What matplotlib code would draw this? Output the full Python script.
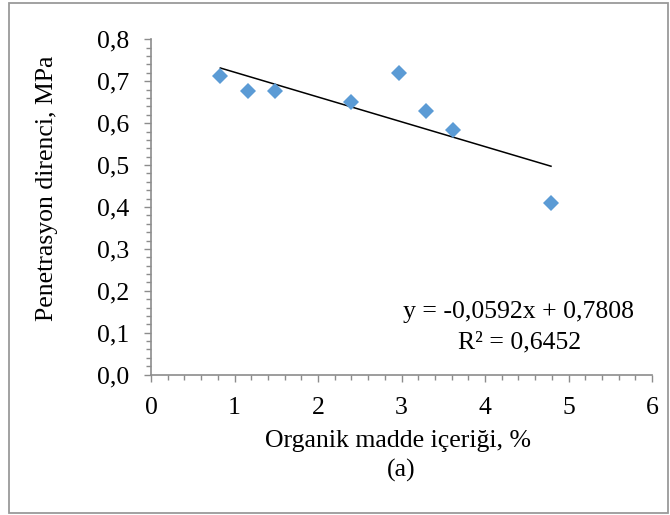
import numpy as np
import matplotlib
matplotlib.use('Agg')
import matplotlib.pyplot as plt
from matplotlib.ticker import MultipleLocator, FuncFormatter
from matplotlib.patches import Rectangle

plt.rcParams['font.family'] = ['Liberation Serif', 'DejaVu Serif']

# data
organic = [0.83, 1.16, 1.49, 2.40, 2.97, 3.29, 3.62, 4.79]
penetration = [0.713, 0.676, 0.676, 0.650, 0.719, 0.629, 0.584, 0.410]
slope = -0.0592
intercept = 0.7808
r2 = 0.6452

fs = 18.5

fig = plt.figure(figsize=(6.7, 5.15), dpi=100)
ax = fig.add_axes([0.2254, 0.2726, 0.7478, 0.651])

ax.plot(organic, penetration, linestyle='none', marker='D', markersize=8.3,
        color='#5B9BD5', markeredgewidth=0, zorder=3)

# linear trend line over the data range
xt = np.array([min(organic), max(organic)])
ax.plot(xt, slope * xt + intercept, color='black', linewidth=1.1, zorder=2)

ax.set_xlim(0, 6)
ax.set_ylim(0, 0.8)
ax.xaxis.set_major_locator(MultipleLocator(1))
ax.xaxis.set_minor_locator(MultipleLocator(0.2))
ax.yaxis.set_major_locator(MultipleLocator(0.1))
ax.yaxis.set_minor_locator(MultipleLocator(0.02))
ax.yaxis.set_major_formatter(FuncFormatter(lambda v, p: f'{v:.1f}'.replace('.', ',')))
ax.xaxis.set_major_formatter(FuncFormatter(lambda v, p: f'{v:.0f}'))

for side in ['top', 'right']:
    ax.spines[side].set_visible(False)
for side in ['left', 'bottom']:
    ax.spines[side].set_color('#8c8c8c')
    ax.spines[side].set_linewidth(1.2)

ax.tick_params(which='major', direction='out', length=5, width=1, color='#8c8c8c',
               labelsize=fs)
ax.tick_params(axis='y', which='major', pad=11)
ax.tick_params(axis='x', which='major', pad=11)
ax.tick_params(which='minor', direction='out', length=3.5, width=1, color='#8c8c8c')

fig.text(47 / 670, 1 - 188 / 515, 'Penetrasyon direnci, MPa', rotation=90,
         ha='center', va='center', fontsize=fs)
fig.text(398 / 670, 1 - 441 / 515, 'Organik madde içeriği, %',
         ha='center', va='center', fontsize=fs)
fig.text(401 / 670, 1 - 470 / 515, '(a)', ha='center', va='center', fontsize=fs)

# trend line equation and R²
eq = f'y = {slope:.4f}x + {intercept:.4f}'.replace('.', ',')
r2_txt = f'R² = {r2:.4f}'.replace('.', ',')
ax.text(4.395, 0.150, eq, ha='center', va='center', fontsize=fs)
ax.text(4.41, 0.076, r2_txt, ha='center', va='center', fontsize=fs)

# outer chart border
fig.patches.append(Rectangle((9 / 670, 2 / 515), 659 / 670, 510 / 515,
                             transform=fig.transFigure, fill=False,
                             edgecolor='#9a9a9a', linewidth=1.3))

fig.savefig('out.png', dpi=100)
